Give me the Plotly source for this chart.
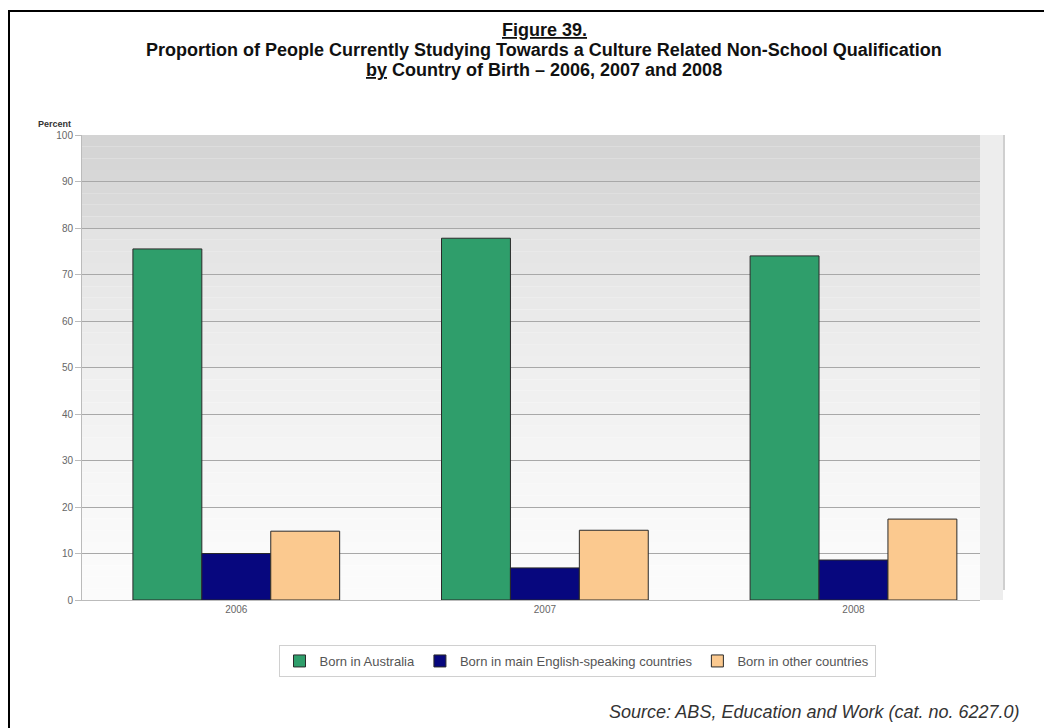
import plotly.graph_objects as go

years = ["2006", "2007", "2008"]
born_australia = [75.5, 77.8, 74.0]
born_mesc = [10.0, 6.9, 8.6]
born_other = [14.8, 15.0, 17.4]
series_names = ["Born in Australia", "Born in main English-speaking countries", "Born in other countries"]
y_ticks = [0, 10, 20, 30, 40, 50, 60, 70, 80, 90, 100]

colors = ["#2f9e6b", "#07077e", "#fbc98f"]

OFF = 8  # page body margin in the browser
FW, FH = 1052 - OFF, 728 - OFF
L, R, T, B = 82 - OFF, 980 - OFF, 135 - OFF, 600 - OFF
W, H = R - L, B - T

def px(x):
    return (x - OFF - L) / W

def py(y):
    return (B - (y - OFF)) / H

fig = go.Figure()
for name, vals, c in zip(series_names, [born_australia, born_mesc, born_other], colors):
    fig.add_trace(go.Bar(x=years, y=vals, name=name, marker=dict(color=c, line=dict(color="#2a2a2a", width=1))))

# gradient background bands
shapes = []
n = 40
for i in range(n):
    y0 = i / n
    y1 = (i + 1) / n
    t = y1
    g = int(252 - 34 * t ** 1.4)
    if t > 0.8:
        g -= 6
    shapes.append(dict(type="rect", xref="x domain", yref="y domain", x0=0, x1=1, y0=y0, y1=y1,
                       fillcolor=f"rgb({g},{g},{g})", line=dict(width=0), layer="below"))
# right shadow
shapes.append(dict(type="rect", xref="paper", yref="paper", x0=1.0, x1=px(1003), y0=0.0, y1=1.0,
                   fillcolor="rgba(225,225,225,0.6)", line=dict(width=0), layer="below"))
shapes.append(dict(type="line", xref="paper", yref="paper", x0=px(1004), x1=px(1004), y0=py(590), y1=1.0,
                   line=dict(color="#cfcfcf", width=2), layer="below"))
# outer frame
shapes.append(dict(type="rect", xref="paper", yref="paper", x0=px(9), x1=px(1070), y0=py(760), y1=py(11),
                   line=dict(color="#000000", width=2), fillcolor="rgba(0,0,0,0)"))

fig.update_layout(
    width=FW, height=FH,
    margin=dict(l=L, r=FW - R, t=T, b=FH - B, autoexpand=False),
    paper_bgcolor="white", plot_bgcolor="white",
    barmode="group", bargap=0.33, bargroupgap=0,
    font=dict(family="Liberation Sans, Arial, sans-serif", color="#333"),
    shapes=shapes,
    showlegend=True,
    legend=dict(orientation="h", x=px(577), xanchor="center", y=py(645), yanchor="top",
                font=dict(size=13, color="#555"), bordercolor="#d0d0d0", borderwidth=1,
                traceorder="normal", itemwidth=30),
    yaxis=dict(range=[0, 100], tickvals=y_ticks, showgrid=True, gridcolor="#a8a8a8", gridwidth=1,
               tickfont=dict(size=10, color="#666"), ticks="outside", ticklen=6, tickcolor="#bbbbbb",
               showline=True, linecolor="#bbbbbb", zeroline=False),
    xaxis=dict(range=[-0.5, 2.41], tickfont=dict(size=10, color="#666"), showline=True,
               linecolor="#bbbbbb", ticks=""),
    annotations=[
        dict(text="<b><u>Figure 39.</u></b>", xref="paper", yref="paper", x=px(544), y=py(30),
             xanchor="center", yanchor="middle", showarrow=False, font=dict(size=18, color="#111")),
        dict(text="<b>Proportion of People Currently Studying Towards a Culture Related Non-School Qualification</b>",
             xref="paper", yref="paper", x=px(544), y=py(50),
             xanchor="center", yanchor="middle", showarrow=False, font=dict(size=18, color="#111")),
        dict(text="<b><u>by</u> Country of Birth – 2006, 2007 and 2008</b>",
             xref="paper", yref="paper", x=px(544), y=py(70),
             xanchor="center", yanchor="middle", showarrow=False, font=dict(size=18, color="#111")),
        dict(text="<b>Percent</b>", xref="paper", yref="paper", x=px(36), y=py(124),
             xanchor="left", yanchor="middle", showarrow=False, font=dict(size=9, color="#333")),
        dict(text="<i>Source: ABS, Education and Work (cat. no. 6227.0)</i>", xref="paper", yref="paper",
             x=px(1022), y=py(712), xanchor="right", yanchor="middle", showarrow=False,
             font=dict(size=18, color="#333")),
    ],
)

fig.write_html("out.html")
